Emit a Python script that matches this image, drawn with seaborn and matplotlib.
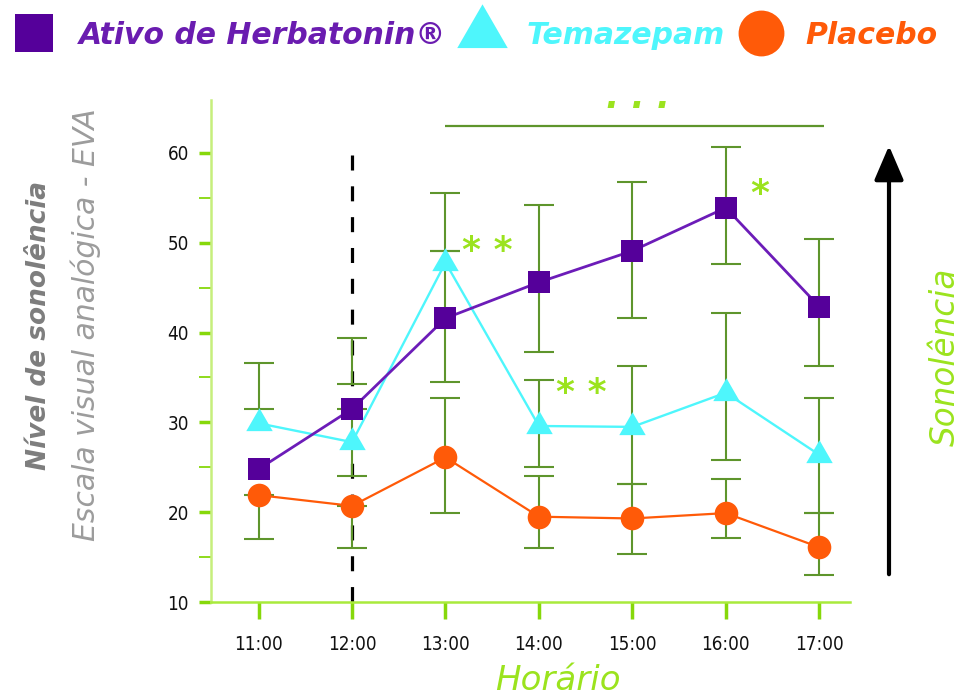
import numpy as np
import pandas as pd
import matplotlib
matplotlib.use("Agg")
import matplotlib.pyplot as plt
import seaborn as sns
from matplotlib.lines import Line2D
from matplotlib import font_manager as fm

# ---------------- data ----------------
hours = [11, 12, 13, 14, 15, 16, 17]
hour_labels = ["11:00", "12:00", "13:00", "14:00", "15:00", "16:00", "17:00"]
series_names = ["Ativo de Herbatonin®", "Temazepam", "Placebo"]

herbatonin = [24.8, 31.5, 41.6, 45.6, 49.1, 53.9, 42.9]
temazepam = [29.9, 27.8, 47.8, 29.6, 29.5, 33.3, 26.4]
placebo = [21.9, 20.7, 26.1, 19.5, 19.3, 19.9, 16.1]

# visible error-bar intervals (low, high)
nan = np.nan
herb_lo = [nan, 24.0, 34.5, 37.8, 41.6, 47.6, 36.3]
herb_hi = [nan, 31.5, 49.1, 54.2, 56.8, 60.7, 50.4]
tema_lo = [31.5, 34.3, 49.1, 25.0, 23.1, 25.8, 19.9]
tema_hi = [36.6, 39.4, 55.5, 34.7, 36.3, 42.2, 32.7]
plac_lo = [17.0, 16.0, 19.9, 16.0, 15.3, 17.1, 13.0]
plac_hi = [21.9, 20.7, 32.7, 24.0, 23.1, 23.7, 19.9]

yticks = [10, 20, 30, 40, 50, 60]
yminor = [15, 25, 35, 45, 55]

# ---------------- style ----------------
sns.set_style("white")
plt.rcParams["font.family"] = ["DejaVu Sans"]


def condensed_props(size):
    for fam, stretch in [("Liberation Sans Narrow", "normal"),
                         ("DejaVu Sans", "condensed")]:
        fp = fm.FontProperties(family=fam, stretch=stretch, size=size)
        try:
            path = fm.findfont(fp, fallback_to_default=False)
            if fam == "DejaVu Sans" and "Condensed" not in path:
                continue
            return fm.FontProperties(fname=path, size=size)
        except Exception:
            continue
    return fm.FontProperties(family="DejaVu Sans", size=size)


PURPLE = "#55009a"
PURPLE_LINE = "#6c1cb8"
CYAN = "#4ef6fc"
ORANGE = "#ff5a08"
ERR = "#5e952c"
LIME = "#9be31e"
SPINE = "#c6ef7c"
TICK = "#86d80a"
GRAY = "#7d7d7d"

tri = [(0, 1.155), (-1, -0.577), (1, -0.577)]

fig = plt.figure(figsize=(9.64, 7.0), dpi=100)
ax = fig.add_axes([211 / 964, 1 - 602 / 700, (850 - 211) / 964, (602 - 100) / 700])

df = pd.DataFrame({
    "hour": hours * 3,
    "value": herbatonin + temazepam + placebo,
    "series": sum([[n] * len(hours) for n in series_names], []),
})

# error bars (drawn below markers)
for lo, hi in [(herb_lo, herb_hi), (tema_lo, tema_hi), (plac_lo, plac_hi)]:
    lo = np.array(lo, float)
    hi = np.array(hi, float)
    mid = (lo + hi) / 2
    half = (hi - lo) / 2
    ok = ~np.isnan(mid)
    ax.errorbar(np.array(hours)[ok], mid[ok], yerr=half[ok], fmt="none",
                ecolor=ERR, elinewidth=1.5, capsize=10.5, capthick=1.5, zorder=2)

# dashed line at 12:00 (drawn from the top down so it starts with a dash)
ax.plot([12, 12], [59.8, 10], color="black", linewidth=2.3,
        linestyle=(0, (4.7, 4.95)), zorder=1.5)

styles = {
    "Placebo": dict(color=ORANGE, marker="o", markersize=17, linewidth=1.6),
    "Temazepam": dict(color=CYAN, marker=tri, markersize=22, linewidth=1.7),
    "Ativo de Herbatonin®": dict(color=PURPLE_LINE, marker="s", markersize=16.5,
                                 linewidth=2.0, markerfacecolor=PURPLE,
                                 markeredgecolor=PURPLE),
}
for name in ["Placebo", "Temazepam", "Ativo de Herbatonin®"]:
    sub = df[df["series"] == name]
    st = dict(styles[name])
    st.setdefault("markeredgewidth", 0)
    sns.lineplot(data=sub, x="hour", y="value", ax=ax, errorbar=None,
                 legend=False, zorder=3, **st)

# significance
ax.hlines(63.0, 13, 17.05, colors=ERR, linewidth=1.6)
ax.text(15.06, 65.0, ". . .", color=LIME, fontsize=25, fontweight="bold",
        fontstyle="italic", ha="center", va="baseline")
star_kw = dict(color=LIME, fontsize=26, fontweight="bold", ha="center",
               va="center", family=["DejaVu Sans"])
ax.text(13.45, 49.1, "* *", **star_kw)
ax.text(14.45, 33.3, "* *", **star_kw)
ax.text(16.36, 55.4, "*", **star_kw)

# axes formatting
ax.set_xlim(10.49, 17.33)
ax.set_ylim(10, 65.9)
ax.set_xticks(hours)
ax.set_xticklabels(hour_labels)
ax.set_yticks(yticks)
ax.set_yticks(yminor, minor=True)
for s in ["top", "right"]:
    ax.spines[s].set_visible(False)
ax.spines["left"].set_color(SPINE)
ax.spines["left"].set_linewidth(1.8)
ax.spines["bottom"].set_color("#a9ea3c")
ax.spines["bottom"].set_linewidth(1.8)
ax.tick_params(axis="y", which="major", length=9, width=2.5, color=TICK,
               pad=7, left=True, direction="out")
ax.tick_params(axis="y", which="minor", length=9, width=1.3, color=TICK,
               left=True, direction="out")
ax.tick_params(axis="x", which="major", length=12, width=2.5, color=TICK,
               pad=12, bottom=True, direction="out")
tick_fp = condensed_props(13.5)
for lab in ax.get_xticklabels() + ax.get_yticklabels():
    lab.set_fontproperties(tick_fp)
    lab.set_color("#111111")
ax.set_xlabel("")
ax.set_ylabel("")
ax.grid(False)

# axis titles
fig.text(39 / 964, 1 - 325 / 700, "Nível de sonolência", rotation=90,
         ha="center", va="center", color=GRAY, fontsize=19,
         fontweight="bold", fontstyle="italic")
fig.text(86 / 964, 1 - 325 / 700, "Escala visual analógica - EVA", rotation=90,
         ha="center", va="center", color="#9c9c9c", fontsize=21.5,
         fontstyle="italic")
fig.text(558 / 964, 1 - 681 / 700, "Horário", ha="center", va="center",
         color=LIME, fontsize=24.5, fontstyle="italic")
fig.text(945 / 964, 1 - 357 / 700, "Sonolência", rotation=90, ha="center",
         va="center", color=LIME, fontsize=23.5, fontstyle="italic")

# arrow
fig.add_artist(matplotlib.patches.FancyArrowPatch(
    (889 / 964, 1 - 577 / 700), (889 / 964, 1 - 143 / 700),
    transform=fig.transFigure, arrowstyle="-|>,head_width=6,head_length=14",
    mutation_scale=1.5, color="black", linewidth=3))

# legend
handles = [
    Line2D([], [], linestyle="none", marker="s", markersize=27,
           markerfacecolor=PURPLE, markeredgewidth=0),
    Line2D([], [], linestyle="none", marker=tri, markersize=42,
           markerfacecolor=CYAN, markeredgewidth=0),
    Line2D([], [], linestyle="none", marker="o", markersize=33,
           markerfacecolor=ORANGE, markeredgewidth=0),
]
leg = fig.legend(handles, series_names, loc="center left",
                 bbox_to_anchor=(-0.013, 1 - 35 / 700), ncol=3, frameon=False,
                 handlelength=1.3, handletextpad=0.85, columnspacing=0.55,
                 prop=dict(family=["DejaVu Sans"], size=21.5,
                           weight="bold", style="italic"))
for t, c in zip(leg.get_texts(), ["#6a1cb0", CYAN, ORANGE]):
    t.set_color(c)

fig.savefig("out.png", dpi=100)
